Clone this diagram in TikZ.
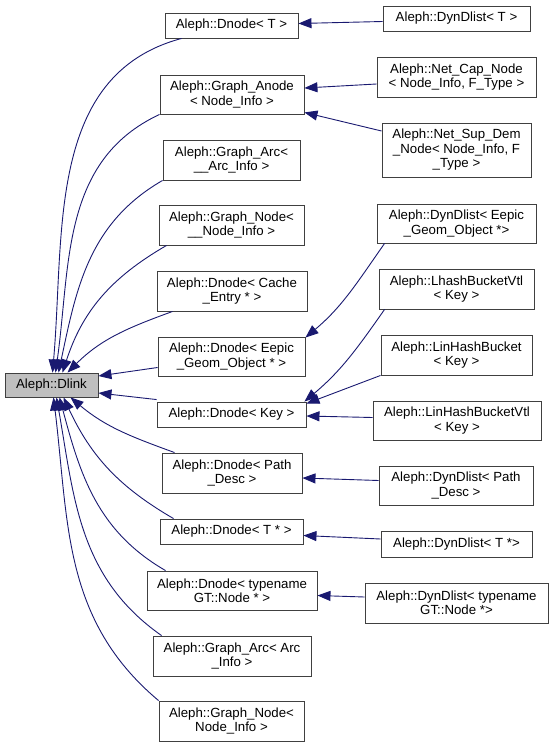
\documentclass[tikz,border=0pt]{standalone}
\usepackage{fontspec}
\setmainfont{Liberation Sans}
\usetikzlibrary{arrows.meta}
\definecolor{edgeblue}{HTML}{191970}
\tikzset{
  cls/.style={draw=black!75, line width=0.9bp, fill=white, align=center, inner sep=0pt,
    font=\fontsize{13.3}{14.5}\selectfont},
  basecls/.style={cls, fill=black!25},
  inh/.style={draw=edgeblue, line width=0.9bp, -{Triangle[length=13bp,width=10bp]}},
}
\begin{document}
\begin{tikzpicture}[x=1bp,y=-1bp]
\useasboundingbox (0,0) rectangle (553,747);

\node[basecls, minimum width=93bp, minimum height=24bp] (dlink) at (51.5,385) {Aleph::Dlink};

\node[cls, minimum width=133bp, minimum height=25bp] (dnT) at (231.5,25.5) {Aleph::Dnode< T >};
\node[cls, minimum width=144bp, minimum height=39bp] (ganode) at (232,94.5) {Aleph::Graph\_Anode\\< Node\_Info >};
\node[cls, minimum width=137bp, minimum height=40bp] (garcA) at (231.5,160) {Aleph::Graph\_Arc<\\ \_\_Arc\_Info >};
\node[cls, minimum width=145bp, minimum height=40bp] (gnodeA) at (231.5,225) {Aleph::Graph\_Node<\\ \_\_Node\_Info >};
\node[cls, minimum width=150bp, minimum height=40bp] (dcache) at (232,291) {Aleph::Dnode< Cache\\\_Entry * >};
\node[cls, minimum width=147bp, minimum height=39bp] (deepic) at (231.5,356.5) {Aleph::Dnode< Eepic\\\_Geom\_Object * >};
\node[cls, minimum width=149bp, minimum height=25bp] (dkey) at (231.5,414.5) {Aleph::Dnode< Key >};
\node[cls, minimum width=140bp, minimum height=40bp] (dpath) at (232,473) {Aleph::Dnode< Path\\\_Desc >};
\node[cls, minimum width=143bp, minimum height=25bp] (dTs) at (231.5,531.5) {Aleph::Dnode< T * >};
\node[cls, minimum width=170bp, minimum height=39bp] (dtype) at (232,590.5) {Aleph::Dnode< typename\\GT::Node * >};
\node[cls, minimum width=158bp, minimum height=40bp] (garcB) at (232,656) {Aleph::Graph\_Arc< Arc\\\_Info >};
\node[cls, minimum width=145bp, minimum height=40bp] (gnodeB) at (231.5,721) {Aleph::Graph\_Node<\\Node\_Info >};

\node[cls, minimum width=147bp, minimum height=25bp] (dynT) at (456.5,18.5) {Aleph::DynDlist< T >};
\node[cls, minimum width=159bp, minimum height=40bp] (netcap) at (456.5,77) {Aleph::Net\_Cap\_Node\\< Node\_Info, F\_Type >};
\node[cls, minimum width=149bp, minimum height=54bp] (netsup) at (456.5,150) {Aleph::Net\_Sup\_Dem\\\_Node< Node\_Info, F\\\_Type >};
\node[cls, minimum width=159bp, minimum height=39bp] (dyneepic) at (456.5,223.5) {Aleph::DynDlist< Eepic\\\_Geom\_Object *>};
\node[cls, minimum width=155bp, minimum height=40bp] (lhash) at (456.5,289) {Aleph::LhashBucketVtl\\< Key >};
\node[cls, minimum width=151bp, minimum height=40bp] (linhash) at (456.5,355) {Aleph::LinHashBucket\\< Key >};
\node[cls, minimum width=168bp, minimum height=39bp] (linhashvtl) at (457,420.5) {Aleph::LinHashBucketVtl\\< Key >};
\node[cls, minimum width=154bp, minimum height=39bp] (dynpath) at (456,485.5) {Aleph::DynDlist< Path\\\_Desc >};
\node[cls, minimum width=151bp, minimum height=26bp] (dynTs) at (456.5,544) {Aleph::DynDlist< T *>};
\node[cls, minimum width=183bp, minimum height=40bp] (dyntype) at (456.5,603) {Aleph::DynDlist< typename\\GT::Node *>};

\draw[inh] ([xshift=17bp]dnT.south west) to[out=195,in=85] ([xshift=1bp]dlink.north);
\draw[inh] (ganode.south west) to[out=205,in=82] ([xshift=4bp]dlink.north);
\draw[inh] (garcA.south west) to[out=210,in=78] ([xshift=7bp]dlink.north);
\draw[inh] ([xshift=8bp]gnodeA.south west) to[out=210,in=72] ([xshift=11bp]dlink.north);
\draw[inh] ([xshift=16bp]dcache.south west) to[out=200,in=45] ([xshift=16bp]dlink.north);
\draw[inh] ([yshift=-11bp]deepic.west) -- ([yshift=9bp]dlink.east);
\draw[inh] ([yshift=2bp]dkey.north west) -- ([yshift=-8bp]dlink.east);
\draw[inh] ([xshift=13bp]dpath.north west) to[out=160,in=-40] ([xshift=19bp]dlink.south);
\draw[inh] ([xshift=14bp]dTs.north west) to[out=150,in=-65] ([xshift=12bp]dlink.south);
\draw[inh] ([xshift=19bp]dtype.north west) to[out=150,in=-75] ([xshift=8bp]dlink.south);
\draw[inh] ([xshift=9bp]garcB.north west) to[out=145,in=-80] ([xshift=5bp]dlink.south);
\draw[inh] (gnodeB.north west) to[out=140,in=-83] ([xshift=2bp]dlink.south);

\draw[inh] ([yshift=-3bp]dynT.west) -- ([yshift=2bp]dnT.east);
\draw[inh] ([yshift=-7bp]netcap.west) -- ([yshift=6.5bp]ganode.east);
\draw[inh] ([yshift=19bp]netsup.west) -- ([yshift=2bp]ganode.south east);
\draw[inh] ([xshift=8bp]dyneepic.south west) to[out=235,in=40] ([yshift=-1bp]deepic.north east);
\draw[inh] ([xshift=6bp]lhash.south west) to[out=235,in=40] ([xshift=-2bp]dkey.north east);
\draw[inh] (linhash.south west) -- ([yshift=-2bp]dkey.north east);
\draw[inh] ([yshift=3bp]linhashvtl.west) -- ([yshift=-1.5bp]dkey.east);
\draw[inh] ([yshift=5bp]dynpath.west) -- ([yshift=-5bp]dpath.east);
\draw[inh] ([yshift=5bp]dynTs.west) -- ([yshift=-4bp]dTs.east);
\draw[inh] ([yshift=6bp]dyntype.west) -- ([yshift=-5bp]dtype.east);
\end{tikzpicture}
\end{document}
